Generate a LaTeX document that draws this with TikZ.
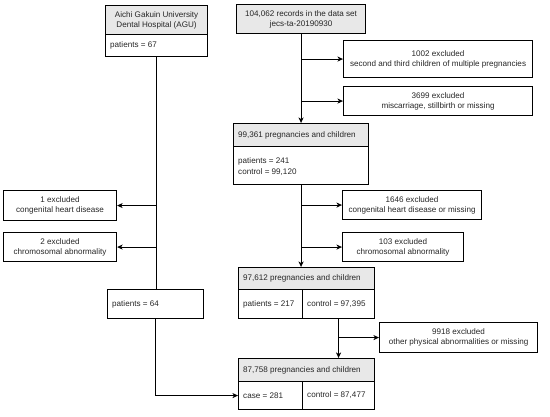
\documentclass[tikz,border=0pt]{standalone}
\usepackage{fontspec}
\setmainfont{Liberation Sans}
\usetikzlibrary{arrows.meta}
\definecolor{hdrgray}{HTML}{E8E8E8}
\tikzset{
  bx/.style={draw, line width=1.1bp, inner sep=0pt, anchor=north west},
  hd/.style={bx, fill=hdrgray},
  txt/.style={inner sep=0pt, font=\fontsize{8.1bp}{10bp}\selectfont, align=center, text=black!85},
  ltxt/.style={inner sep=0pt, font=\fontsize{8.1bp}{10.5bp}\selectfont, align=left, anchor=west, text=black!85},
  ln/.style={line width=1.1bp},
  arr/.style={ln, -{Stealth[length=5.5bp,width=5bp,inset=1.5bp]}}
}
\begin{document}
\begin{tikzpicture}[x=1bp,y=-1bp]
\useasboundingbox (0,0) rectangle (550,416);
% AGU
\node[hd, minimum width=102bp, minimum height=29bp] (aguh) at (105,5) {};
\node[txt] at (aguh.center) {Aichi Gakuin University\\Dental Hospital (AGU)};
\node[bx, minimum width=102bp, minimum height=22bp] (agub) at (105,34) {};
\node[ltxt] at ([xshift=5bp]agub.west) {patients = 67};
% top
\node[hd, minimum width=129bp, minimum height=29bp] (top) at (236,4) {};
\node[txt] at (top.center) {104,062 records in the data set\\jecs-ta-20190930};
% excluded right
\node[bx, minimum width=189bp, minimum height=37bp] (e1) at (343,40) {};
\node[txt] at (e1.center) {1002 excluded\\second and third children of multiple pregnancies};
\node[bx, minimum width=189bp, minimum height=29bp] (e2) at (343,86) {};
\node[txt] at (e2.center) {3699 excluded\\miscarriage, stillbirth or missing};
% 99,361
\node[hd, minimum width=135bp, minimum height=23bp] (bah) at (233,123) {};
\node[ltxt] at ([xshift=5bp]bah.west) {99,361 pregnancies and children};
\node[bx, minimum width=135bp, minimum height=38bp] (bab) at (233,146) {};
\node[ltxt] at ([xshift=5bp,yshift=-1bp]bab.west) {patients = 241\\control = 99,120};
\node[bx, minimum width=139bp, minimum height=29bp] (e3) at (342,190) {};
\node[txt] at (e3.center) {1646 excluded\\congenital heart disease or missing};
\node[bx, minimum width=121bp, minimum height=29bp] (e4) at (342,232) {};
\node[txt] at (e4.center) {103 excluded\\chromosomal abnormality};
% 97,612
\node[hd, minimum width=136bp, minimum height=22bp] (bbh) at (238,267) {};
\node[ltxt] at ([xshift=5bp]bbh.west) {97,612 pregnancies and children};
\node[bx, minimum width=64bp, minimum height=29bp] (bbl) at (238,289) {};
\node[ltxt] at ([xshift=5bp]bbl.west) {patients = 217};
\node[bx, minimum width=72bp, minimum height=29bp] (bbr) at (302,289) {};
\node[ltxt] at ([xshift=5bp]bbr.west) {control = 97,395};
\node[bx, minimum width=158bp, minimum height=30bp] (e5) at (379,322) {};
\node[txt] at (e5.center) {9918 excluded\\other physical abnormalities or missing};
% 87,758
\node[hd, minimum width=136bp, minimum height=23bp] (bch) at (238,358) {};
\node[ltxt] at ([xshift=5bp]bch.west) {87,758 pregnancies and children};
\node[bx, minimum width=64bp, minimum height=28bp] (bcl) at (238,381) {};
\node[ltxt] at ([xshift=5bp]bcl.west) {case = 281};
\node[bx, minimum width=72bp, minimum height=28bp] (bcr) at (302,381) {};
\node[ltxt] at ([xshift=5bp]bcr.west) {control = 87,477};
% left
\node[bx, minimum width=113bp, minimum height=30bp] (l1) at (3,190) {};
\node[txt] at (l1.center) {1 excluded\\congenital heart disease};
\node[bx, minimum width=113bp, minimum height=29bp] (l2) at (3,232) {};
\node[txt] at (l2.center) {2 excluded\\chromosomal abnormality};
\node[bx, minimum width=96bp, minimum height=29bp] (p64) at (107,289) {};
\node[ltxt] at ([xshift=5bp]p64.west) {patients = 64};
% connectors right
\draw[arr] (top.south) -- (top.south |- bah.north);
\coordinate (c1) at (top.south |- e1.west);
\coordinate (c2) at (top.south |- e2.west);
\draw[arr] (c1) -- (e1.west);
\draw[arr] (c2) -- (e2.west);
\draw[arr] (bab.south) -- (bab.south |- bbh.north);
\coordinate (c3) at (bab.south |- e3.west);
\coordinate (c4) at (bab.south |- e4.west);
\draw[arr] (c3) -- (e3.west);
\draw[arr] (c4) -- (e4.west);
\draw[arr] (bbr.south) -- (bbr.south |- bch.north);
\coordinate (c5) at (bbr.south |- e5.west);
\draw[arr] (c5) -- (e5.west);
% connectors left
\draw[ln] (agub.south) -- (agub.south |- p64.north);
\coordinate (c6) at (agub.south |- l1.east);
\coordinate (c7) at (agub.south |- l2.east);
\draw[arr] (c6) -- (l1.east);
\draw[arr] (c7) -- (l2.east);
\draw[arr] (p64.south) |- (bcl.west);
\end{tikzpicture}
\end{document}
